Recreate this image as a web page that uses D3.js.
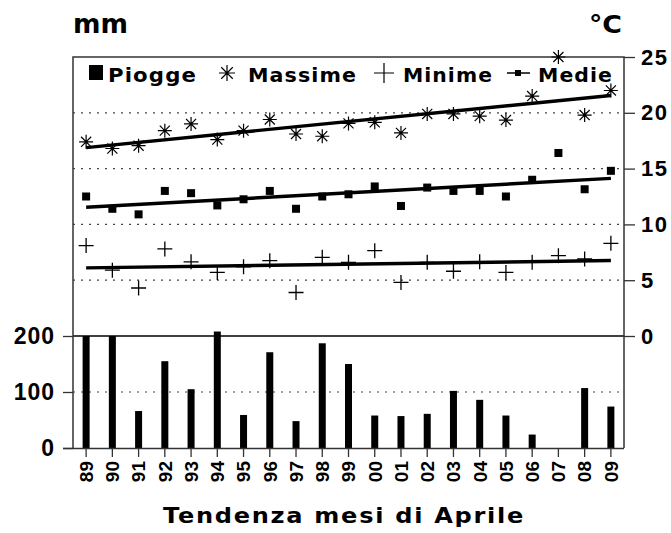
<!DOCTYPE html>
<html>
<head>
<meta charset="utf-8">
<script src="https://cdn.jsdelivr.net/npm/d3@7"></script>
<style>
body{margin:0;background:#fff}
text{font-family:"DejaVu Sans",sans-serif;font-weight:bold;fill:#000}
.num{font-family:"Liberation Sans",Arial,sans-serif}
</style>
</head>
<body>
<div id="chart"></div>
<script>
var anni = ["89","90","91","92","93","94","95","96","97","98","99","00","01","02","03","04","05","06","07","08","09"];
var piogge = [200,200,66,155,105,208,59,171,48,187,150,58,57,61,102,86,58,24,0,107,74];
var massime = [17.4,16.8,17.05,18.4,19.0,17.6,18.4,19.4,18.1,17.9,19.05,19.15,18.2,19.9,19.9,19.7,19.35,21.5,25.0,19.8,22.0];
var medie = [12.5,11.4,10.9,13.0,12.8,11.7,12.25,13.0,11.4,12.5,12.7,13.4,11.65,13.3,13.0,13.0,12.5,14.0,16.4,13.15,14.8];
var minime = [8.1,5.9,4.3,7.8,6.65,5.7,6.2,6.75,3.9,7.05,6.6,7.65,4.8,6.6,5.8,6.65,5.7,6.6,7.2,6.9,8.3];
var tickTemp = [0,5,10,15,20,25];
var tickMm = [0,100,200];

var W = 671, H = 533;
var pLeft = 73, pRight = 624, pTop = 57, pBottom = 448;

var svg = d3.select("#chart").append("svg")
    .attr("width", W)
    .attr("height", H);

var x = d3.scaleBand().domain(anni).range([pLeft, pRight]);
var cx = function(d){ return x(d) + x.bandwidth()/2; };

var yT = d3.scaleLinear().domain([0,25]).range([336, pTop]);
var yM = d3.scaleLinear().domain([0,200]).range([pBottom, 336]);

// griglia tratteggiata
svg.selectAll("line.gridT")
    .data(tickTemp.filter(function(t){ return t>0 && t<25; }))
    .enter().append("line")
    .attr("x1", pLeft).attr("x2", pRight)
    .attr("y1", function(d){ return yT(d); })
    .attr("y2", function(d){ return yT(d); })
    .attr("stroke", "#444")
    .attr("stroke-dasharray", "2,6")
    .style("stroke-width","1.2px");

svg.append("line")
    .attr("x1", pLeft).attr("x2", pRight)
    .attr("y1", yM(100)).attr("y2", yM(100))
    .attr("stroke", "#444")
    .attr("stroke-dasharray", "2,6")
    .style("stroke-width","1.2px");

// linea 0°C / 200 mm
svg.append("line")
    .attr("x1", pLeft).attr("x2", pRight)
    .attr("y1", yT(0)).attr("y2", yT(0))
    .attr("stroke", "#000")
    .style("stroke-width","1.3px");

// cornice
svg.append("path")
    .attr("d", "M"+pLeft+","+pBottom+"V"+pTop+"H"+pRight+"V"+pBottom)
    .attr("fill","none")
    .attr("stroke","#333")
    .style("stroke-width","1.5px");

// barre piogge
svg.selectAll("rect.bar")
    .data(piogge)
    .enter().append("rect")
    .attr("x", function(d,i){ return cx(anni[i]) - 3.5; })
    .attr("y", function(d){ return yM(d); })
    .attr("width", 7)
    .attr("height", function(d){ return yM(0) - yM(d); })
    .attr("fill", "#000");

// assi
var axL = svg.append("g")
    .attr("transform","translate("+pLeft+",0)")
    .call(d3.axisLeft(yM).tickValues(tickMm).tickSize(10).tickSizeOuter(0).tickPadding(8));
axL.select(".domain").remove();
axL.selectAll("text").attr("class","num").style("font-size","23px").style("letter-spacing","1px");

var axR = svg.append("g")
    .attr("transform","translate("+pRight+",0)")
    .call(d3.axisRight(yT).tickValues(tickTemp).tickSize(11).tickSizeOuter(0).tickPadding(6));
axR.select(".domain").remove();
axR.selectAll("text").attr("class","num").style("font-size","22px").style("letter-spacing","1.5px");

var axB = svg.append("g")
    .attr("transform","translate(0,"+pBottom+")")
    .call(d3.axisBottom(x).tickSize(9).tickSizeOuter(0));
axB.select(".domain").attr("d","M"+(pLeft-10)+",0.5H"+pRight).attr("stroke","#333").style("stroke-width","1.5px");
axB.selectAll("text")
    .attr("class","num")
    .style("font-size","19px")
    .attr("text-anchor","end")
    .attr("transform","rotate(-90)")
    .attr("x", -13)
    .attr("y", 0)
    .attr("dy", "0.36em");
svg.selectAll(".tick line").attr("stroke","#333").style("stroke-width","1.3px");

// linee di tendenza (minimi quadrati)
function tendenza(vals){
  var n = vals.length, sx=0, sy=0, sxy=0, sxx=0;
  for(var i=0;i<n;i++){ sx+=i; sy+=vals[i]; sxy+=i*vals[i]; sxx+=i*i; }
  var b = (n*sxy - sx*sy)/(n*sxx - sx*sx);
  var a = (sy - b*sx)/n;
  return [{i:0, v:a}, {i:n-1, v:a+b*(n-1)}];
}
var lineFunction = d3.line()
    .x(function(d){ return cx(anni[d.i]); })
    .y(function(d){ return yT(d.v); });

[massime, medie, minime].forEach(function(s){
  svg.append("path")
      .attr("d", lineFunction(tendenza(s)))
      .attr("stroke","#000")
      .attr("fill","none")
      .style("stroke-width","3.4px");
});

// simboli
function asterisco(r){
  var d = r*0.72;
  return "M"+(-r)+",0H"+r+"M0,"+(-r)+"V"+r+"M"+(-d)+","+(-d)+"L"+d+","+d+"M"+(-d)+","+d+"L"+d+","+(-d);
}
function croce(r){
  return "M"+(-r)+",0H"+r+"M0,"+(-r)+"V"+r;
}

svg.selectAll("path.max")
    .data(massime)
    .enter().append("path")
    .attr("transform", function(d,i){ return "translate("+cx(anni[i])+","+yT(d)+")"; })
    .attr("d", asterisco(7))
    .attr("stroke","#000").attr("fill","none")
    .style("stroke-width","1.2px");

svg.selectAll("path.min")
    .data(minime)
    .enter().append("path")
    .attr("transform", function(d,i){ return "translate("+cx(anni[i])+","+yT(d)+")"; })
    .attr("d", croce(7.5))
    .attr("stroke","#000").attr("fill","none")
    .style("stroke-width","1.3px");

svg.selectAll("rect.med")
    .data(medie)
    .enter().append("rect")
    .attr("x", function(d,i){ return cx(anni[i]) - 4; })
    .attr("y", function(d){ return yT(d) - 4; })
    .attr("width", 8).attr("height", 8)
    .attr("fill","#000");

// legenda
var ly = 82;
svg.append("rect").attr("x",89).attr("y",65).attr("width",14).attr("height",15).attr("fill","#000");
svg.append("path").attr("transform","translate(227,73)").attr("d",asterisco(8))
    .attr("stroke","#000").attr("fill","none").style("stroke-width","1.2px");
svg.append("path").attr("transform","translate(384,73)").attr("d",croce(10))
    .attr("stroke","#000").attr("fill","none").style("stroke-width","1.2px");
svg.append("line").attr("x1",507).attr("x2",530).attr("y1",73).attr("y2",73)
    .attr("stroke","#000").style("stroke-width","1.5px");
svg.append("rect").attr("x",515).attr("y",70).attr("width",6).attr("height",6).attr("fill","#000");

var legenda = [
  {t:"Piogge", x:108, w:89},
  {t:"Massime", x:248, w:109},
  {t:"Minime", x:403, w:90},
  {t:"Medie", x:538, w:75}
];
legenda.forEach(function(l){
  svg.append("text").attr("x",l.x).attr("y",ly)
      .attr("textLength",l.w).attr("lengthAdjust","spacingAndGlyphs")
      .style("letter-spacing","1px")
      .style("font-size","19px").text(l.t);
});

// etichette
svg.append("text").attr("x",73).attr("y",33)
    .attr("textLength",55).attr("lengthAdjust","spacingAndGlyphs")
    .style("font-size","26px").text("mm");
svg.append("text").attr("x",589).attr("y",33)
    .attr("textLength",33).attr("lengthAdjust","spacingAndGlyphs")
    .style("font-size","25px").text("°C");
svg.append("text").attr("x",163).attr("y",523)
    .attr("textLength",362).attr("lengthAdjust","spacingAndGlyphs")
    .style("letter-spacing","1.5px")
    .style("font-size","21px").text("Tendenza mesi di Aprile");
</script>
</body>
</html>
